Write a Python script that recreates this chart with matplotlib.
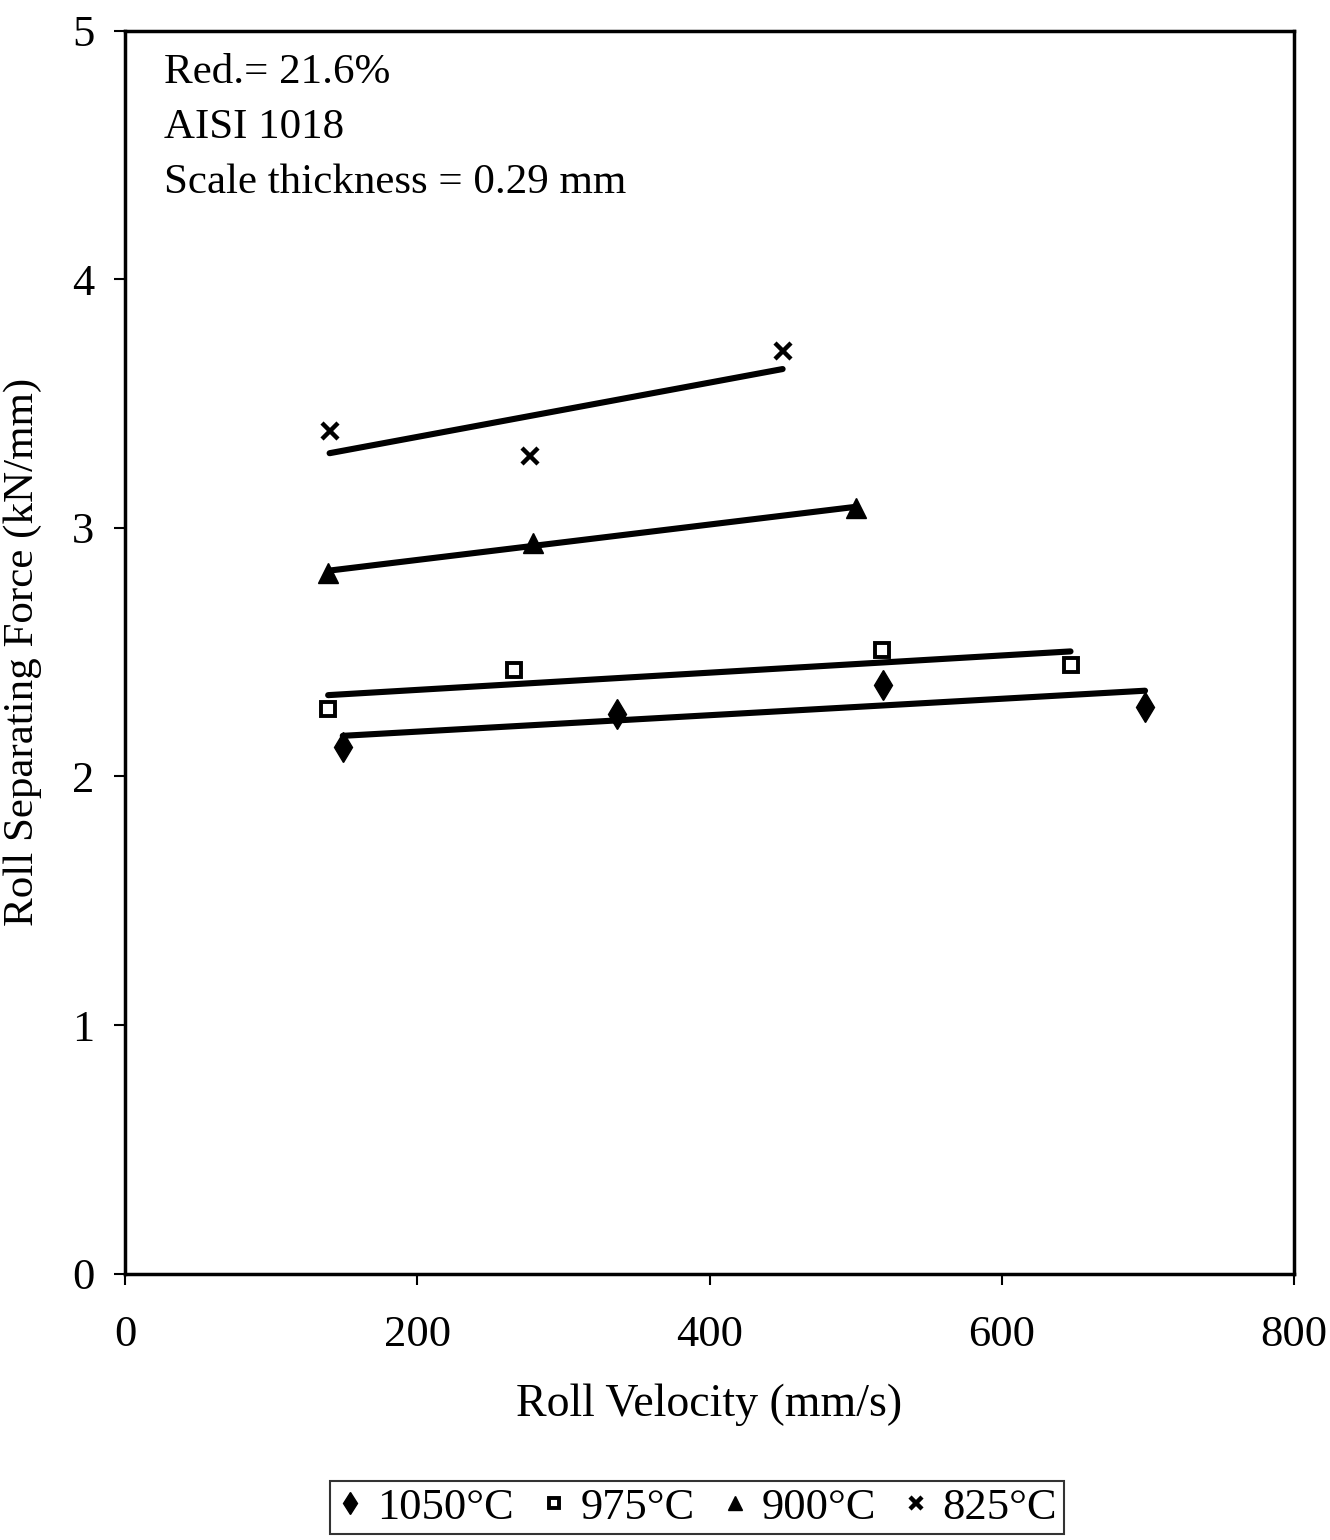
import numpy as np
import matplotlib
matplotlib.use('Agg')
import matplotlib.pyplot as plt

plt.rcParams['font.family'] = ['Liberation Serif', 'DejaVu Serif']

# Roll velocity (mm/s) and roll separating force (kN/mm) per temperature
labels = ['1050°C', '975°C', '900°C', '825°C']
v_1050 = [149, 337, 519, 698]
f_1050 = [2.12, 2.25, 2.37, 2.28]
v_975 = [139, 266, 518, 647]
f_975 = [2.27, 2.43, 2.51, 2.45]
v_900 = [139, 279, 500]
f_900 = [2.82, 2.94, 3.08]
v_825 = [140, 277, 450]
f_825 = [3.39, 3.29, 3.71]

notes = ['Red.= 21.6%', 'AISI 1018', 'Scale thickness = 0.29 mm']

series = [(v_1050, f_1050), (v_975, f_975), (v_900, f_900), (v_825, f_825)]
markers = [
    dict(marker='d', ms=15, mfc='black', mec='black', mew=1),
    dict(marker='s', ms=10, mfc='white', mec='black', mew=2.8),
    dict(marker='^', ms=14, mfc='black', mec='black', mew=1),
    dict(marker='x', ms=12, mfc='black', mec='black', mew=3.2),
]

fig = plt.figure(figsize=(13.3, 15.4), dpi=100)
ax = fig.add_axes([0.094, 0.173, 0.879, 0.807])

handles = []
for (xs, ys), mk, lab in zip(series, markers, labels):
    xs = np.array(xs, dtype=float)
    ys = np.array(ys, dtype=float)
    # linear trend line over the range of the data
    k, b = np.polyfit(xs, ys, 1)
    xl = np.array([xs.min(), xs.max()])
    ax.plot(xl, k * xl + b, '-', c='black', lw=4.4, solid_capstyle='round', zorder=2)
    h, = ax.plot(xs, ys, ls='none', zorder=3, label=lab, **mk)
    handles.append(h)

ax.set_xlim(0, 800)
ax.set_ylim(0, 5)
ax.set_xticks([0, 200, 400, 600, 800])
ax.set_yticks([0, 1, 2, 3, 4, 5])
ax.tick_params(direction='out', length=8, width=1.5, labelsize=32)
ax.tick_params(axis='x', pad=22)
ax.tick_params(axis='y', pad=14)
for s in ax.spines.values():
    s.set_linewidth(2.5)

ax.set_xlabel('Roll Velocity (mm/s)', fontsize=33, labelpad=20)
ax.set_ylabel('Roll Separating Force (kN/mm)', fontsize=31, labelpad=22)

for i, t in enumerate(notes):
    ax.text(0.033, 0.966 - i * 0.044, t, transform=ax.transAxes,
            fontsize=31, va='center', ha='left')

leg = fig.legend(handles=handles, labels=labels, loc='center', bbox_to_anchor=(0.524, 0.021),
                 ncol=4, fontsize=32, frameon=True, fancybox=False, edgecolor='black',
                 handlelength=0.6, handletextpad=0.3, columnspacing=0.6, borderpad=0.15,
                 markerscale=0.75)
leg.get_frame().set_linewidth(1.5)

fig.savefig('out.png', dpi=100, facecolor='white')
